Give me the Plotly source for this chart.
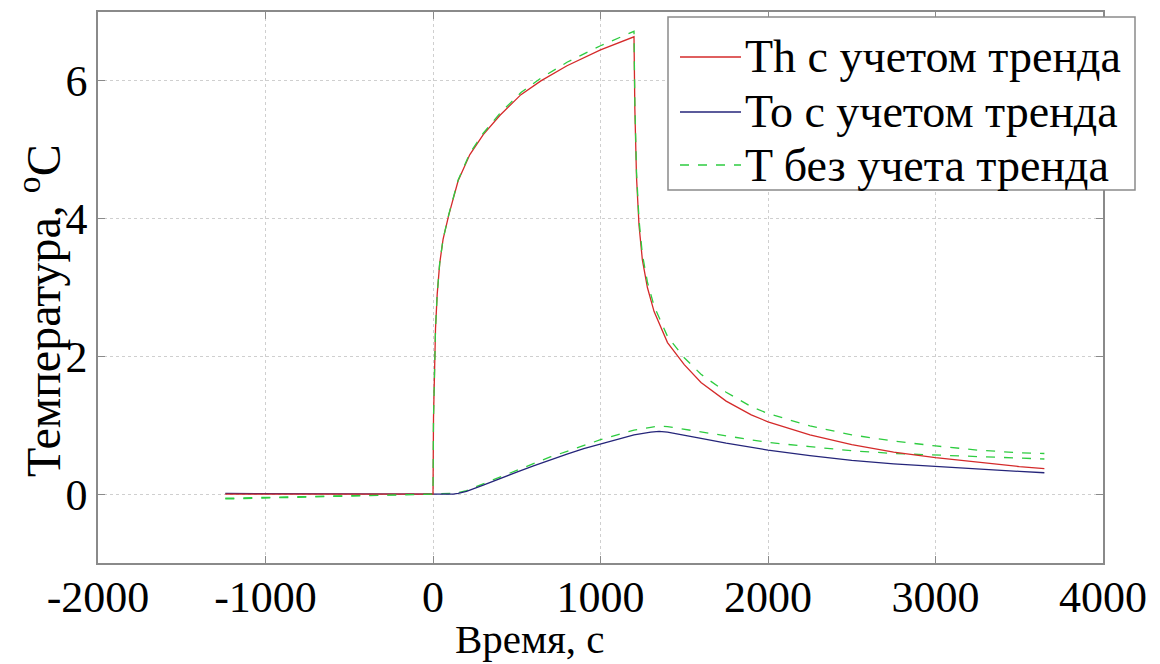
import plotly.graph_objects as go

# Th with trend (red)
th_t = [-1240, -600, 0, 3, 8, 15, 25, 40, 60, 94, 150, 220, 300, 400, 525, 644, 800, 1000, 1200,
        1205, 1215, 1230, 1250, 1280, 1320, 1400, 1500, 1600, 1750, 1900, 2000, 2250, 2500, 2750,
        3000, 3250, 3500, 3650]
th_v = [0.0, 0.0, 0.0, 1.1, 1.8, 2.4, 2.9, 3.35, 3.7, 4.05, 4.55, 4.93, 5.22, 5.5, 5.8, 6.0, 6.22, 6.45, 6.64,
        5.6, 4.6, 3.9, 3.4, 3.0, 2.65, 2.2, 1.88, 1.62, 1.35, 1.15, 1.05, 0.86, 0.72, 0.61,
        0.53, 0.46, 0.4, 0.37]
# Th without trend (green dashed)
thg_v = [-0.07, -0.035, 0.0, 1.1, 1.8, 2.4, 2.9, 3.35, 3.7, 4.06, 4.56, 4.95, 5.24, 5.53, 5.83, 6.04, 6.27, 6.51, 6.72,
         5.68, 4.68, 3.98, 3.48, 3.08, 2.73, 2.29, 1.98, 1.74, 1.48, 1.27, 1.17, 0.99, 0.86, 0.77,
         0.7, 0.64, 0.6, 0.59]

# To with trend (blue)
to_t = [-1240, -600, 0, 120, 150, 200, 300, 400, 500, 600, 700, 800, 900, 1000, 1100, 1200, 1300, 1350,
        1400, 1500, 1600, 1750, 2000, 2250, 2500, 2750, 3000, 3250, 3500, 3650]
to_v = [0.01, 0.005, 0.0, 0.0, 0.01, 0.04, 0.13, 0.23, 0.32, 0.41, 0.5, 0.58, 0.66, 0.73, 0.8, 0.86, 0.9, 0.91,
        0.9, 0.86, 0.81, 0.74, 0.64, 0.56, 0.49, 0.44, 0.4, 0.36, 0.33, 0.31]
# To without trend (green dashed)
tog_v = [-0.06, -0.03, 0.0, 0.01, 0.02, 0.05, 0.15, 0.25, 0.35, 0.44, 0.54, 0.62, 0.71, 0.79, 0.86, 0.93, 0.97, 0.99,
         0.98, 0.94, 0.9, 0.84, 0.75, 0.69, 0.63, 0.59, 0.57, 0.54, 0.52, 0.51]

legend_names = ["Th с учетом тренда", "To с учетом тренда", "T без учета тренда"]
x_ticks = [-2000, -1000, 0, 1000, 2000, 3000, 4000]
y_ticks = [0, 2, 4, 6]

FONT = "Liberation Serif"
RED = "#d42a2a"
BLUE = "#25257a"
GREEN = "#2ecc40"
GRAY = "#8a8a8a"

# plot area in pixels
L, R, T, B = 98, 1103, 12, 563
W, H = 1160, 664


def px(xp):
    return (xp - L) / (R - L)


def py(yp):
    return (B - yp) / (B - T)


fig = go.Figure()
fig.add_trace(go.Scatter(x=to_t, y=tog_v, mode="lines", line=dict(color=GREEN, width=1.3, dash="dash"),
                         showlegend=False, hoverinfo="skip"))
fig.add_trace(go.Scatter(x=to_t, y=to_v, mode="lines", line=dict(color=BLUE, width=1.3),
                         name=legend_names[1], showlegend=False))
fig.add_trace(go.Scatter(x=th_t, y=th_v, mode="lines", line=dict(color=RED, width=1.3),
                         name=legend_names[0], showlegend=False))
fig.add_trace(go.Scatter(x=th_t, y=thg_v, mode="lines", line=dict(color=GREEN, width=1.3, dash="dash"),
                         name=legend_names[2], showlegend=False))

axis_common = dict(
    showline=True, linecolor=GRAY, linewidth=1.5, mirror="ticks",
    ticks="inside", ticklen=7, tickcolor=GRAY,
    showgrid=True, gridcolor="#cfcfcf", griddash="dot", gridwidth=1,
    zeroline=False,
    tickfont=dict(family=FONT, size=44, color="black"),
)

fig.update_xaxes(range=[-2000, 4000], tickvals=x_ticks, ticktext=[str(v) for v in x_ticks],
                 ticklabelstandoff=-6, **axis_common)
fig.update_yaxes(range=[-1, 7], tickvals=y_ticks, ticktext=[str(v) for v in y_ticks], **axis_common)

# axis titles as annotations (positioned like the reference)
fig.add_annotation(text="Время, с", xref="paper", yref="paper", x=px(530), y=py(639),
                   showarrow=False, xanchor="center", yanchor="middle", borderpad=0,
                   font=dict(family=FONT, size=41, color="black"))
fig.add_annotation(text="Температура, <sup>o</sup>C", xref="paper", yref="paper", x=px(40), y=py(311),
                   showarrow=False, xanchor="center", yanchor="middle", textangle=-90, borderpad=0,
                   font=dict(family=FONT, size=48, color="black"))

# legend box drawn manually
fig.add_shape(type="rect", xref="paper", yref="paper", x0=px(668), x1=px(1135), y0=py(190), y1=py(17),
              line=dict(color=GRAY, width=1.5), fillcolor="white", layer="above")
rows = [57, 112, 165]
styles = [dict(color=RED, width=1.3), dict(color=BLUE, width=1.3), dict(color=GREEN, width=1.3, dash="dash")]
for name, ry, st in zip(legend_names, rows, styles):
    fig.add_shape(type="line", xref="paper", yref="paper", x0=px(680), x1=px(741), y0=py(ry), y1=py(ry),
                  line=st, layer="above")
    fig.add_annotation(text=name, xref="paper", yref="paper", x=px(744), y=py(ry),
                       showarrow=False, xanchor="left", yanchor="middle", borderpad=0,
                       font=dict(family=FONT, size=46, color="black"))

fig.update_layout(
    width=W, height=H,
    margin=dict(l=L, r=W - R, t=T, b=H - B, autoexpand=False),
    paper_bgcolor="white", plot_bgcolor="white",
    font=dict(family=FONT, color="black"),
    showlegend=False,
)

fig.write_html("out.html")
